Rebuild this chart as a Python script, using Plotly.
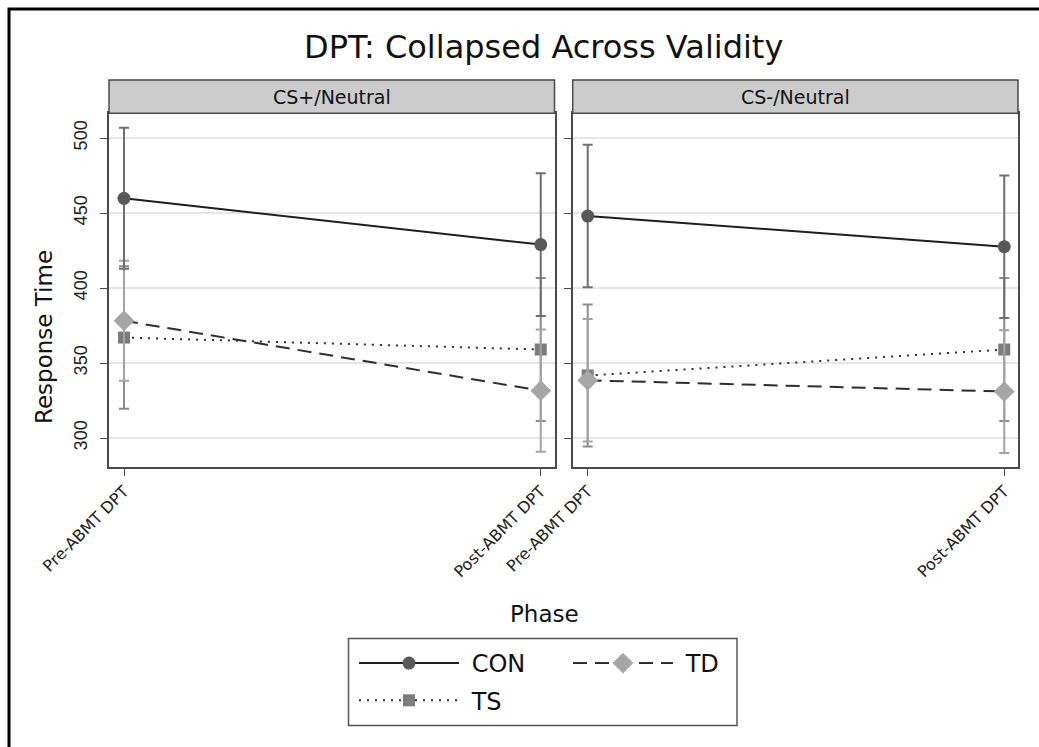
import plotly.graph_objects as go

# ---- data -------------------------------------------------------------
panels = ["CS+/Neutral", "CS-/Neutral"]
phases = ["Pre-ABMT DPT", "Post-ABMT DPT"]
groups = ["CON", "TD", "TS"]

# mean response time per phase, and half-width of the 95% CI
con_mean_csplus = [459.8, 429.0]
con_ci_csplus = [47.0, 47.6]
td_mean_csplus = [378.2, 331.6]
td_ci_csplus = [40.0, 40.8]
ts_mean_csplus = [367.0, 359.0]
ts_ci_csplus = [47.5, 47.7]

con_mean_csminus = [448.0, 427.6]
con_ci_csminus = [47.5, 47.5]
td_mean_csminus = [338.5, 331.0]
td_ci_csminus = [40.8, 40.9]
ts_mean_csminus = [341.7, 359.0]
ts_ci_csminus = [47.3, 47.7]

y_ticks = [300, 350, 400, 450, 500]

means = {
    "CS+/Neutral": {"CON": con_mean_csplus, "TD": td_mean_csplus, "TS": ts_mean_csplus},
    "CS-/Neutral": {"CON": con_mean_csminus, "TD": td_mean_csminus, "TS": ts_mean_csminus},
}
cis = {
    "CS+/Neutral": {"CON": con_ci_csplus, "TD": td_ci_csplus, "TS": ts_ci_csplus},
    "CS-/Neutral": {"CON": con_ci_csminus, "TD": td_ci_csminus, "TS": ts_ci_csminus},
}

# ---- styling ----------------------------------------------------------
W, H = 1039, 747
ML, MR, MT, MB = 109, 21, 80, 280
PW, PH = W - ML - MR, H - MT - MB
FONT = "DejaVu Sans, Verdana, sans-serif"
NUM_FONT = "Liberation Sans, Arial, Helvetica, sans-serif"
NBSP = "\u00a0"  # small gap between legend key and label


def px_x(p):
    return (p - ML) / PW


def px_y(p):
    return (H - MB - p) / PH


style = {
    "CON": dict(line=dict(color="#1e1e1e", width=2, dash="solid"),
                marker=dict(symbol="circle", size=13, color="#595959"),
                err="#6f6f6f", legend="legend", rank=1),
    "TD": dict(line=dict(color="#2e2e2e", width=2, dash="14px,8px"),
               marker=dict(symbol="diamond", size=16, color="#a6a6a6"),
               err="#a3a3a3", legend="legend2", rank=3),
    "TS": dict(line=dict(color="#2e2e2e", width=2, dash="2px,6px"),
               marker=dict(symbol="square", size=12, color="#7c7c7c"),
               err="#8c8c8c", legend="legend", rank=2),
}
draw_order = ["TS", "TD", "CON"]

strip_bottom = px_y(113.3)
domains = [[0.0, px_x(554.5)], [px_x(572.7), 1.0]]
x_positions = list(range(len(phases)))

fig = go.Figure()

for i, panel in enumerate(panels):
    xa = "x" if i == 0 else "x2"
    ya = "y" if i == 0 else "y2"
    for g in draw_order:
        s = style[g]
        fig.add_trace(go.Scatter(
            x=x_positions, y=means[panel][g],
            mode="lines+markers",
            name=NBSP + g,
            legend=s["legend"],
            legendgroup=g,
            legendrank=s["rank"],
            showlegend=(i == 0),
            line=s["line"], marker=s["marker"],
            error_y=dict(type="data", array=cis[panel][g], symmetric=True,
                         color=s["err"], thickness=2, width=5),
            xaxis=xa, yaxis=ya,
        ))

axis_common = dict(
    showline=True, linecolor="#4a4a4a", linewidth=1.5, mirror=True,
    ticks="outside", ticklen=7, tickcolor="#4a4a4a", tickwidth=1.2,
    zeroline=False,
)
for i in range(len(panels)):
    sfx = "" if i == 0 else str(i + 1)
    fig.layout["xaxis" + sfx] = dict(
        domain=domains[i], range=[-0.036, 1.033],
        tickvals=x_positions, ticktext=phases, tickangle=-45,
        tickfont=dict(family=FONT, size=16, color="#222"),
        showgrid=False, anchor="y" + sfx, **axis_common)
    fig.layout["yaxis" + sfx] = dict(
        domain=[0, strip_bottom], range=[280.7, 516.5],
        tickvals=y_ticks, tickangle=-90, ticklabelstandoff=6,
        tickfont=dict(family=NUM_FONT, size=18, color="#222"),
        showticklabels=(i == 0),
        showgrid=True, gridcolor="#e6e6e6", gridwidth=1.5,
        anchor="x" + sfx, **axis_common)

shapes = []
annotations = []
# facet strips
for i, panel in enumerate(panels):
    shapes.append(dict(type="rect", xref="paper", yref="paper",
                       x0=domains[i][0], x1=domains[i][1], y0=strip_bottom, y1=1.0,
                       fillcolor="#cccccc", line=dict(color="#4a4a4a", width=1.5)))
    annotations.append(dict(text=panel, xref="paper", yref="paper",
                            x=(domains[i][0] + domains[i][1]) / 2,
                            y=(strip_bottom + 1.0) / 2, showarrow=False,
                            font=dict(family=FONT, size=19, color="#111"),
                            xanchor="center", yanchor="middle"))

# outer frame
shapes.append(dict(type="rect", xref="paper", yref="paper",
                   x0=px_x(9), x1=px_x(1080), y0=px_y(790), y1=px_y(9),
                   line=dict(color="#000", width=3), fillcolor="rgba(0,0,0,0)"))
# legend box
shapes.append(dict(type="rect", xref="paper", yref="paper",
                   x0=px_x(348.5), x1=px_x(737), y0=px_y(725.5), y1=px_y(638.5),
                   line=dict(color="#555", width=1.5), fillcolor="rgba(0,0,0,0)"))

annotations += [
    dict(text="DPT: Collapsed Across Validity", xref="paper", yref="paper",
         x=px_x(543), y=px_y(47), showarrow=False, xanchor="center", yanchor="middle",
         font=dict(family=FONT, size=32, color="#111")),
    dict(text="Response Time", xref="paper", yref="paper",
         x=px_x(44), y=px_y(337), showarrow=False, textangle=-90,
         xanchor="center", yanchor="middle",
         font=dict(family=FONT, size=23, color="#111")),
    dict(text="Phase", xref="paper", yref="paper",
         x=px_x(544), y=px_y(614), showarrow=False, xanchor="center", yanchor="middle",
         font=dict(family=FONT, size=23, color="#111")),
]

legend_common = dict(
    orientation="v", itemwidth=100, traceorder="grouped", tracegroupgap=3,
    font=dict(family=FONT, size=24, color="#111"),
    bgcolor="rgba(0,0,0,0)", borderwidth=0,
    xanchor="left", yanchor="top", itemclick=False, itemdoubleclick=False,
)

fig.update_layout(
    width=W, height=H,
    margin=dict(l=ML, r=MR, t=MT, b=MB),
    paper_bgcolor="white", plot_bgcolor="white",
    shapes=shapes, annotations=annotations,
    legend=dict(x=px_x(354), y=px_y(641), **legend_common),
    legend2=dict(x=px_x(568), y=px_y(641), **legend_common),
    showlegend=True,
)

fig.write_html("out.html")
